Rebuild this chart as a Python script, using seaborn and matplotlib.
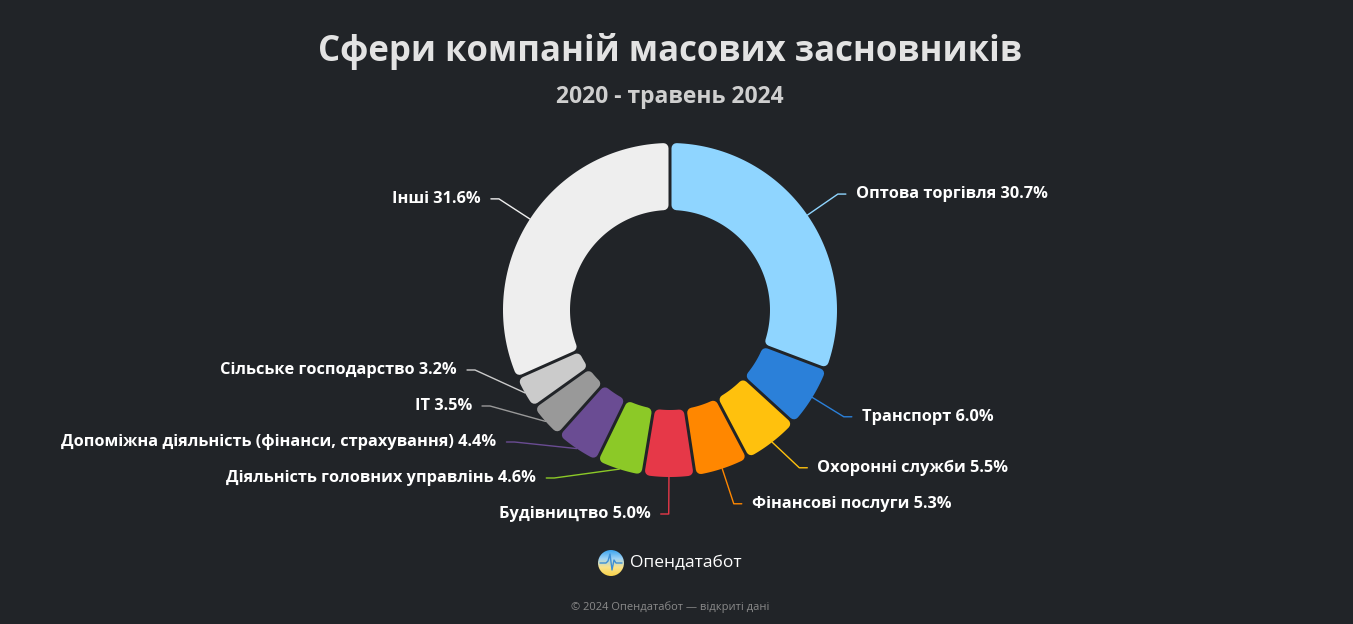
import numpy as np
import matplotlib
matplotlib.use("Agg")
import matplotlib.pyplot as plt
import seaborn as sns
from matplotlib.patches import Polygon, Circle
from matplotlib.colors import LinearSegmentedColormap

# data
categories = ["Оптова торгівля", "Транспорт", "Охоронні служби", "Фінансові послуги",
              "Будівництво", "Діяльність головних управлінь",
              "Допоміжна діяльність (фінанси, страхування)", "IT",
              "Сільське господарство", "Інші"]
shares = [30.7, 6.0, 5.5, 5.3, 5.0, 4.6, 4.4, 3.5, 3.2, 31.6]
colors = ["#8fd5ff", "#2b80d9", "#ffc10d", "#ff8700", "#e63848", "#8cc927",
          "#6a4c93", "#999999", "#cbcbcb", "#eeeeee"]

bg = "#212428"
sns.set_theme(style="dark")
plt.rcParams['font.family'] = ['Open Sans', 'DejaVu Sans']

fig = plt.figure(figsize=(13.53, 6.24), dpi=100, facecolor=bg)
ax = fig.add_axes([0, 0, 1, 1])
ax.set_facecolor(bg)

cx, cy = 670, 314
R, W = 167, 67
wedges, _ = ax.pie(shares, colors=colors, center=(cx, cy), radius=R, startangle=90,
                   counterclock=False, wedgeprops=dict(width=W))
ax.set_xlim(0, 1353)
ax.set_ylim(0, 624)
ax.axis('off')

# rounded slices with gaps
gap, rr = 3, 5
for w in wedges:
    a1, a2 = np.radians(w.theta1), np.radians(w.theta2)
    s = gap / 2 + rr
    ro, ri = R - rr, R - W + rr
    o = np.linspace(a1 + np.arcsin(s / ro), a2 - np.arcsin(s / ro), 80)
    i = np.linspace(a2 - np.arcsin(s / ri), a1 + np.arcsin(s / ri), 80)
    pts = np.r_[np.c_[cx + ro * np.cos(o), cy + ro * np.sin(o)],
                np.c_[cx + ri * np.cos(i), cy + ri * np.sin(i)]]
    fc = w.get_facecolor()
    w.set_visible(False)
    ax.add_patch(Polygon(pts, closed=True, fc=fc, ec=fc, lw=2 * rr * 0.72, joinstyle='round'))

# labels
lab_r = 204
info = []
for w, name, v, c in zip(wedges, categories, shares, colors):
    mid = np.radians((w.theta1 + w.theta2) / 2)
    info.append(dict(name=name, v=v, c=c, mid=mid, y=cy + lab_r * np.sin(mid),
                     left=np.cos(mid) < 0))

for side in [True, False]:
    grp = sorted([d for d in info if d['left'] == side], key=lambda d: d['y'])
    for k in range(1, len(grp)):
        grp[k]['y'] = max(grp[k]['y'], grp[k - 1]['y'] + 36)

for d in info:
    dy = d['y'] - cy
    sgn = -1 if d['left'] else 1
    bx = cx + sgn * np.sqrt(max(lab_r ** 2 - dy ** 2, 0))
    ex, ey = cx + R * np.cos(d['mid']), cy + R * np.sin(d['mid'])
    ax.plot([ex, bx, bx + sgn * 8], [ey, d['y'], d['y']], color=d['c'], lw=1)
    ax.text(bx + sgn * 18, d['y'], f"{d['name']} {d['v']:.1f}%",
            ha='right' if d['left'] else 'left', va='center',
            color='white', fontsize=11.8, fontweight='bold')

# titles
fig.text(670 / 1353, 1 - 52 / 624, "Сфери компаній масових засновників", ha='center', va='center',
         color='#e3e3e3', fontsize=25, fontweight='bold')
fig.text(670 / 1353, 1 - 97 / 624, "2020 - травень 2024", ha='center', va='center',
         color='#cfcfcf', fontsize=16.5, fontweight='bold')

# logo
lx, ly, lr = 611, 61, 13
cmap = LinearSegmentedColormap.from_list('logo', ['#f7d24a', '#fbe38a', '#9fd3f5', '#3da5f0'])
grad = np.linspace(0, 1, 64).reshape(-1, 1)
im = ax.imshow(grad, extent=[lx - lr, lx + lr, ly - lr, ly + lr], origin='lower', cmap=cmap,
               aspect='auto', zorder=3)
clip = Circle((lx, ly), lr, transform=ax.transData)
im.set_clip_path(clip)
ax.plot([lx - 11, lx - 5, lx - 3, lx - 1, lx + 1, lx + 3, lx + 5, lx + 11],
        [ly, ly, ly + 2, ly + 9, ly - 7, ly + 3, ly, ly], color='#3d8fd6', lw=1, zorder=4,
        clip_path=clip)
ax.set_xlim(0, 1353)
ax.set_ylim(0, 624)
ax.text(630, ly, "Опендатабот", ha='left', va='center', color='white', fontsize=12.5)
ax.text(670, 17, "© 2024 Опендатабот — відкриті дані", ha='center', va='center',
        color='#8a8a8a', fontsize=8)

fig.savefig("out.png", dpi=100, facecolor=bg)
